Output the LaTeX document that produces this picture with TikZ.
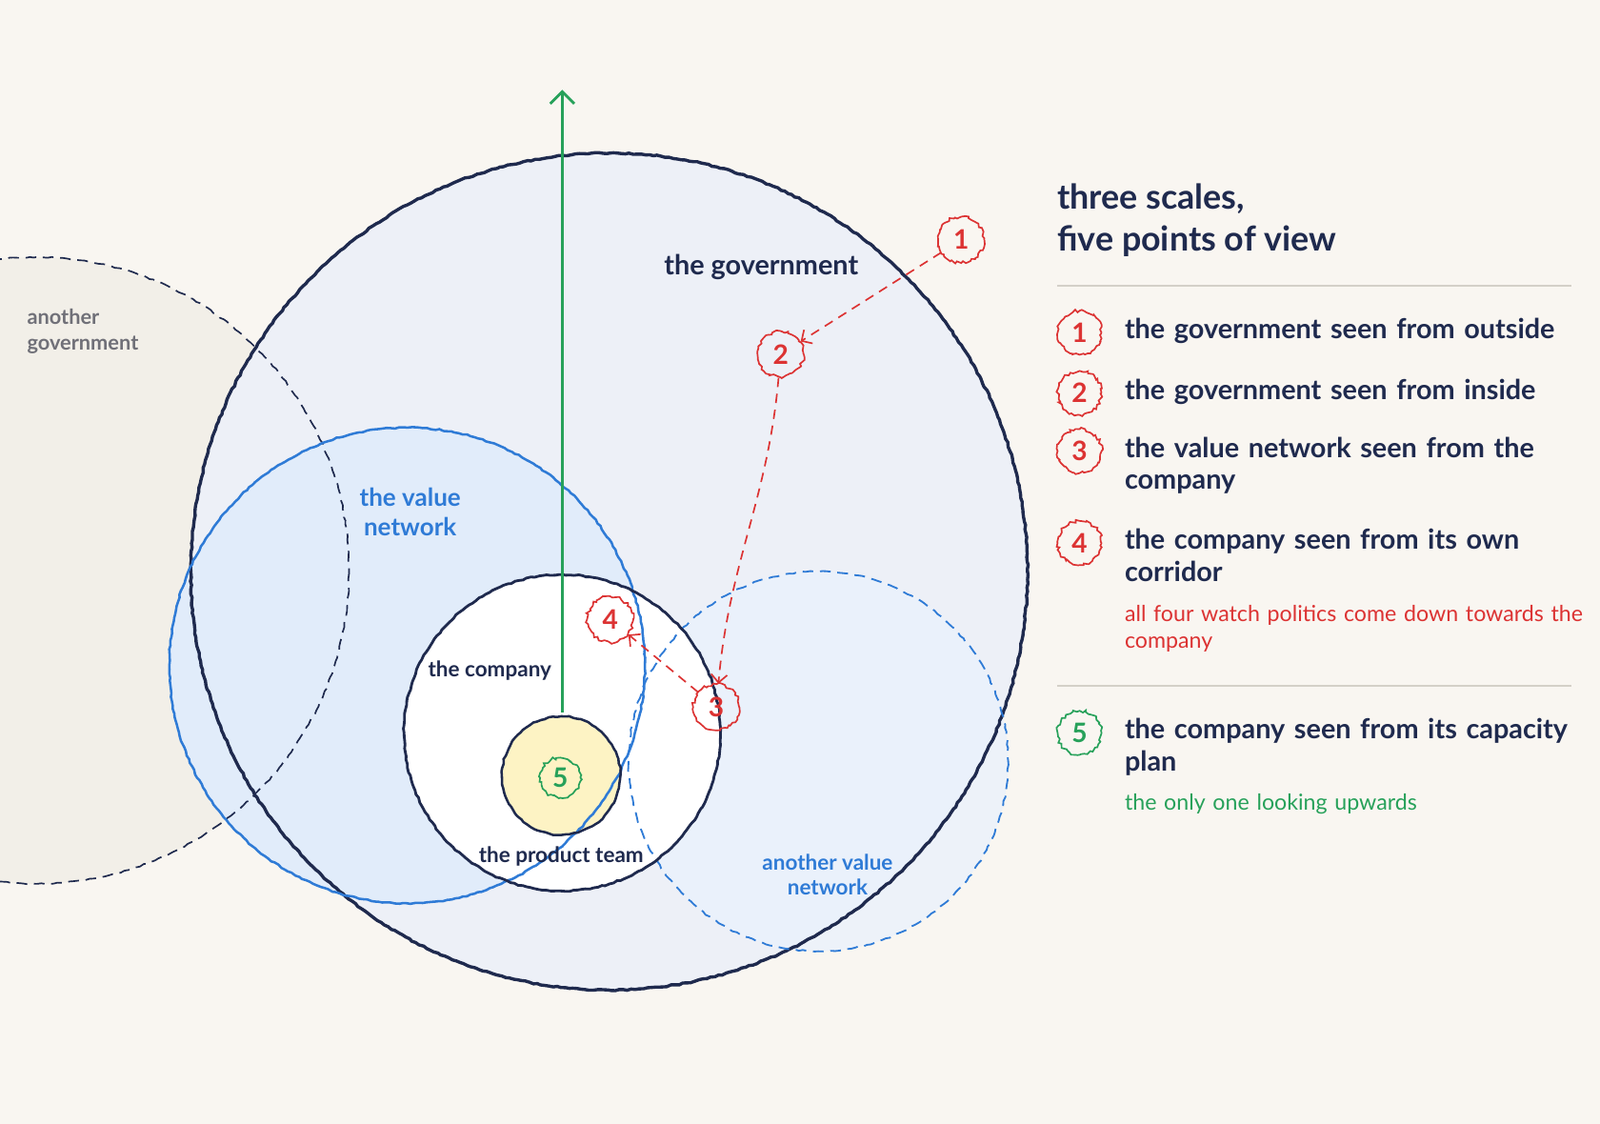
\documentclass[tikz,border=0pt]{standalone}
\usepackage{fontspec}
\setmainfont{Lato}
\usepackage{xcolor}
\usetikzlibrary{arrows.meta, decorations.pathmorphing}
\definecolor{paper}{HTML}{F9F6F1}
\definecolor{ink}{HTML}{1F2A4E}
\definecolor{govfill}{HTML}{EDF0F7}
\definecolor{othergov}{HTML}{F2EFE8}
\definecolor{vnblue}{HTML}{2F7BD6}
\definecolor{vnfill}{HTML}{E1ECFA}
\definecolor{vnfill2}{HTML}{EAF2FC}
\definecolor{teamfill}{HTML}{FDF3C4}
\definecolor{pvred}{HTML}{DC3333}
\definecolor{pvgreen}{HTML}{27A15A}
\definecolor{rulegrey}{HTML}{D4D0C8}
\definecolor{mutedgrey}{HTML}{707078}

\tikzset{
  rough/.style={decorate, decoration={random steps, segment length=3pt, amplitude=0.5pt}},
  badge/.style={circle, draw=pvred, line width=1.2pt, minimum size=1.2cm, inner sep=0pt,
    text=pvred, font=\bfseries\fontsize{20}{20}\selectfont,
    decorate, decoration={random steps, segment length=2pt, amplitude=1.2pt}},
  gbadge/.style={badge, draw=pvgreen, text=pvgreen},
  watch/.style={-{Straight Barb[length=6pt]}, pvred, line width=1.2pt, dash pattern=on 7pt off 5pt},
  legend/.style={anchor=north west, align=left, text=ink, font=\bfseries\fontsize{20.5}{24}\selectfont, text width=12.4cm, inner sep=0pt},
  note/.style={anchor=north west, align=left, font=\fontsize{16.5}{20}\selectfont, text width=12.4cm, inner sep=0pt},
}

\begin{document}
\hyphenpenalty=10000
\begin{tikzpicture}[x=0.02679cm, y=-0.02679cm]
            \fill[paper] (0,0) rectangle (1568,1101);
            \useasboundingbox (0,0) rectangle (1568,1101);

            % fills
            \fill[othergov] (35,559) circle (307);
            \fill[govfill] (597,560) circle (410);
            \fill[vnfill] (399,652) circle (233);
            \fill[vnfill2, opacity=0.8] (802,746) circle (186);
            \fill[white] (551,718) circle (155);
            \fill[teamfill] (550,760) circle (58);

            % outlines
            \draw[rough, draw=ink, line width=1.2pt, dash pattern=on 8pt off 5pt] (35,559) circle (307);
            \draw[rough, draw=ink, line width=2.4pt] (597,560) circle (410);
            \draw[rough, draw=vnblue, line width=1.8pt] (399,652) circle (233);
            \draw[rough, draw=vnblue, line width=1.3pt, dash pattern=on 8pt off 5pt] (802,746) circle (186);
            \draw[rough, draw=ink, line width=2pt] (551,718) circle (155);
            \draw[rough, draw=ink, line width=1.8pt] (550,760) circle (58);

            % labels
            \node[text=mutedgrey, align=left, anchor=north west, font=\bfseries\fontsize{15.5}{19}\selectfont] (another gov) at (22,298) {another\\government};
            \node[text=ink, font=\bfseries\fontsize{20.5}{24}\selectfont] (gov) at (746,262) {the government};
            \node[text=vnblue, align=center, font=\bfseries\fontsize{18.5}{22}\selectfont] (vn) at (402,502) {the value\\network};
            \node[text=vnblue, align=center, font=\bfseries\fontsize{16}{19}\selectfont] (another vn) at (811,857) {another value\\network};
            \node[text=ink, font=\bfseries\fontsize{16}{19}\selectfont] (company) at (480,657) {the company};
            \node[text=ink, font=\bfseries\fontsize{16}{19}\selectfont] (team) at (550,839) {the product team};

            % looking upwards
            \coordinate (up) at (551,88);
            \coordinate (team top) at (551,698);
            \draw[-{Straight Barb[length=9pt]}, pvgreen, line width=2pt] (team top) -- (up);

            % points of view
            \node[badge] (p1) at (942,235) {1};
            \node[badge] (p2) at (765,347) {2};
            \node[badge] (p3) at (702,693) {3};
            \node[badge] (p4) at (598,607) {4};
            \node[gbadge, minimum size=1.05cm] (p5) at (549,762) {5};

            \draw[watch] (p1) -- (p2);
            \draw[watch] (p2) to[out=-95, in=85] (p3);
            \draw[watch] (p3) -- (p4);

            % legend
            \node[anchor=north west, align=left, text=ink, font=\bfseries\fontsize{25.5}{31}\selectfont, inner sep=0pt] (title) at (1036,180) {three scales,\\five points of view};
            \draw[rulegrey, line width=1.2pt] (1036,280) -- (1540,280);
            \draw[rulegrey, line width=1.2pt] (1036,672) -- (1540,672);

            \node[badge, minimum size=1.15cm] (k1) at (1058,326) {1};
            \node[badge, minimum size=1.15cm] (k2) at (1058,385) {2};
            \node[badge, minimum size=1.15cm] (k3) at (1058,442) {3};
            \node[badge, minimum size=1.15cm] (k4) at (1058,532) {4};
            \node[gbadge, minimum size=1.15cm] (k5) at (1058,718) {5};

            \node[legend] (t1) at (1102,312) {the government seen from outside};
            \node[legend] (t2) at (1102,371) {the government seen from inside};
            \node[legend] (t3) at (1102,428) {the value network seen from the\\company};
            \node[legend] (t4) at (1102,518) {the company seen from its own\\corridor};
            \node[note, text=pvred] (n4) at (1102,593) {all four watch politics come down towards the\\company};
            \node[legend] (t5) at (1102,704) {the company seen from its capacity\\plan};
            \node[note, text=pvgreen] (n5) at (1102,778) {the only one looking upwards};
        \end{tikzpicture}
\end{document}
